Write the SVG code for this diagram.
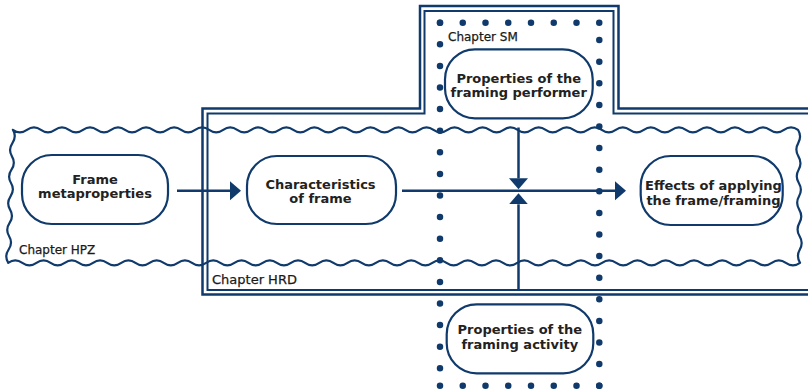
<svg xmlns="http://www.w3.org/2000/svg" width="808" height="391" viewBox="0 0 808 391">
<style>
.wave{fill:none;stroke:#0f3a6b;stroke-width:2.2;stroke-linejoin:round}
.dbl{fill:none;stroke:#0f3a6b}
.dots{fill:none;stroke:#0f3a6b;stroke-width:6.5;stroke-linecap:round}
.node{fill:#fff;stroke:#0f3a6b;stroke-width:2.2}
.lbl{font-family:"DejaVu Sans","Liberation Sans",sans-serif;font-weight:bold;font-size:13px;fill:#222;text-anchor:middle}
.chap{font-family:"DejaVu Sans","Liberation Sans",sans-serif;font-size:12px;fill:#1a1a1a;stroke:#1a1a1a;stroke-width:0.25}
.conn{fill:none;stroke:#0f3a6b;stroke-width:2.5}
</style>
<defs>
<marker id="arr" markerUnits="userSpaceOnUse" markerWidth="12" markerHeight="20" refX="0" refY="9.5" orient="auto">
<path d="M0 0 L11 9.5 L0 19 Z" fill="#0f3a6b"/>
</marker>
</defs>
<g id="chapter-HRD">
<path class="dbl" stroke-width="2.5" d="M810 108.5 H618.5 V6 H420 V108.5 H202.5 V294.5 H810"/>
<path class="dbl" stroke-width="2" d="M810 113.5 H613.5 V11 H424.5 V113.5 H207.5 V290 H810"/>
<text class="chap" x="212" y="284" style="font-size:13px">Chapter HRD</text>
</g>
<g id="chapter-HPZ">
<path class="wave" d="M12.9 129.8 q7.01 5 14.02 0
t14.02 0 t14.02 0 t14.02 0 t14.02 0 t14.02 0
t14.02 0 t14.02 0 t14.02 0 t14.02 0 t14.02 0
t14.02 0 t14.02 0 t14.02 0 t14.02 0 t14.02 0
t14.02 0 t14.02 0 t14.02 0 t14.02 0 t14.02 0
t14.02 0 t14.02 0 t14.02 0 t14.02 0 t14.02 0
t14.02 0 t14.02 0 t14.02 0 t14.02 0 t14.02 0
t14.02 0 t14.02 0 t14.02 0 t14.02 0 t14.02 0
t14.02 0 t14.02 0 t14.02 0 t14.02 0 t14.02 0
t14.02 0 t14.02 0 t14.02 0 t14.02 0 t14.02 0
t14.02 0 t14.02 0 t14.02 0 t14.02 0 t14.02 0
t14.02 0 t14.02 0 t14.02 0 t14.02 0 t14.02 0
q4 6.65 0.2 13.3
t0.2 13.3 t0.2 13.3 t0.2 13.3 t0.2 13.3 t0.2 13.3
t0.2 13.3 t0.2 13.3 t0.2 13.3 t0.2 13.3
q-7.07 5 -14.14 0
t-14.14 0 t-14.14 0 t-14.14 0 t-14.14 0 t-14.14 0
t-14.14 0 t-14.14 0 t-14.14 0 t-14.14 0 t-14.14 0
t-14.14 0 t-14.14 0 t-14.14 0 t-14.14 0 t-14.14 0
t-14.14 0 t-14.14 0 t-14.14 0 t-14.14 0 t-14.14 0
t-14.14 0 t-14.14 0 t-14.14 0 t-14.14 0 t-14.14 0
t-14.14 0 t-14.14 0 t-14.14 0 t-14.14 0 t-14.14 0
t-14.14 0 t-14.14 0 t-14.14 0 t-14.14 0 t-14.14 0
t-14.14 0 t-14.14 0 t-14.14 0 t-14.14 0 t-14.14 0
t-14.14 0 t-14.14 0 t-14.14 0 t-14.14 0 t-14.14 0
t-14.14 0 t-14.14 0 t-14.14 0 t-14.14 0 t-14.14 0
t-14.14 0 t-14.14 0 t-14.14 0 t-14.14 0 t-14.14 0
q-4 -6.65 0.47 -13.3
t0.47 -13.3 t0.47 -13.3 t0.47 -13.3 t0.47 -13.3 t0.47 -13.3
t0.47 -13.3 t0.47 -13.3 t0.47 -13.3 t0.47 -13.3 Z"/>
<text class="chap" x="19" y="254">Chapter HPZ</text>
</g>
<g id="connectors">
<path class="conn" d="M177 190.7 H230" marker-end="url(#arr)"/>
<path class="conn" d="M402 190.7 H615" marker-end="url(#arr)"/>
<path class="conn" d="M518.5 127.5 V178.3" marker-end="url(#arr)"/>
<path class="conn" d="M518.5 290 V204.3" marker-end="url(#arr)"/>
</g>
<g id="chapter-SM">
<path class="dots" stroke-dasharray="0 22.75" d="M440 22.7 H599.4"/>
<path class="dots" stroke-dasharray="0 22.75" d="M440 385.7 H599.4"/>
<path class="dots" stroke-dasharray="0 21.6" d="M440 22.7 V385.7"/>
<path class="dots" stroke-dasharray="0 21.6" d="M599.3 385.7 V22.7"/>
<text class="chap" x="448" y="41">Chapter SM</text>
</g>
<g id="node-frame-metaproperties">
<rect class="node" x="22" y="155" width="146" height="69" rx="30"/>
<text class="lbl" x="95" y="183.5">Frame</text>
<text class="lbl" x="95" y="197.5">metaproperties</text>
</g>
<g id="node-characteristics">
<rect class="node" x="247" y="156" width="149" height="68" rx="30"/>
<text class="lbl" x="320.5" y="189">Characteristics</text>
<text class="lbl" x="320.5" y="203">of frame</text>
</g>
<g id="node-performer">
<rect class="node" x="445" y="49.3" width="147.7" height="69" rx="30"/>
<text class="lbl" x="518.7" y="82.7">Properties of the</text>
<text class="lbl" x="518.7" y="97">framing performer</text>
</g>
<g id="node-activity">
<rect class="node" x="446.7" y="304.3" width="146.6" height="69" rx="30"/>
<text class="lbl" x="519.8" y="334">Properties of the</text>
<text class="lbl" x="519.8" y="348.5">framing activity</text>
</g>
<g id="node-effects">
<rect class="node" x="640.7" y="156" width="142" height="69" rx="30"/>
<text class="lbl" x="713.5" y="190">Effects of applying</text>
<text class="lbl" x="713.5" y="204.5">the frame/framing</text>
</g>
</svg>
